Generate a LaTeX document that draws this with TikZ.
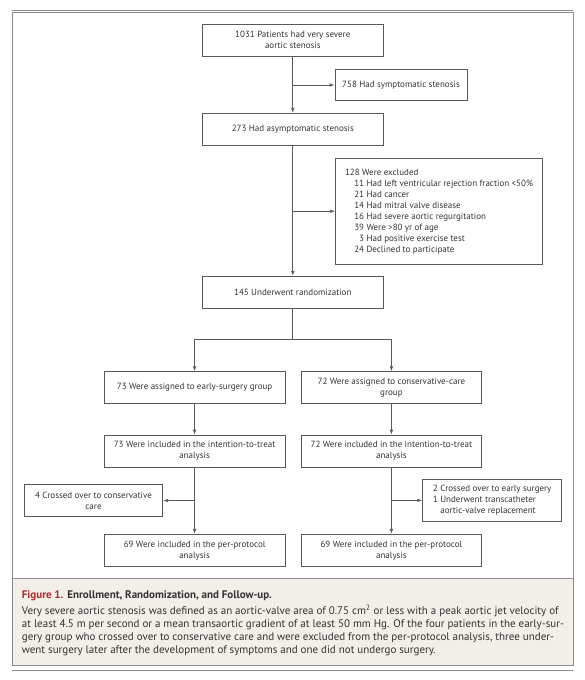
\documentclass[tikz,border=0pt]{standalone}
\usepackage{fontspec}
\setmainfont{PT Sans}
\usetikzlibrary{arrows.meta}
\definecolor{linec}{HTML}{595959}
\definecolor{framec}{HTML}{8C8C8C}
\definecolor{txt}{HTML}{333333}
\definecolor{capbg}{HTML}{F2EFE8}
\definecolor{figred}{HTML}{B3282D}
\begin{document}
\begin{tikzpicture}[x=1pt,y=-1pt,
  box/.style={draw=linec, line width=0.8pt, text=txt, font=\fontsize{9}{11}\selectfont,
    align=center, inner sep=0pt, minimum height=32pt, minimum width=181pt},
  arr/.style={draw=linec, line width=0.8pt, -{Latex[length=5pt,width=3.6pt]}},
  ln/.style={draw=linec, line width=0.8pt},
  rule/.style={draw=framec, line width=1pt},
  captext/.style={anchor=north west, inner sep=0pt, align=left, text=txt}]
\useasboundingbox (0,0) rectangle (585,680);
% frame and caption background
\fill[capbg] (12.3,578.3) rectangle (573.3,665);
\draw[rule] (12.3,12.7) rectangle (573.3,665);
\draw[rule] (12.3,578.3) -- (573.3,578.3);
\draw[rule] (12.3,10) -- (573.3,10);
\draw[rule] (12.3,670) -- (573.3,670);
% nodes
\node[box, minimum height=31.7pt] (b1) at (292.8,40.2) {1031 Patients had very severe\\aortic stenosis};
\node[box, minimum width=132pt, minimum height=31.4pt] (b758) at (401,85) {758 Had symptomatic stenosis};
\node[box] (b273) at (292.8,129.3) {273 Had asymptomatic stenosis};
\node[box, minimum width=206.6pt, minimum height=105.7pt, align=left] (excl) at (439,211.2) {128 Were excluded\\
\hspace*{9.3pt}11 Had left ventricular rejection fraction <50\%\\
\hspace*{9.3pt}21 Had cancer\\
\hspace*{9.3pt}14 Had mitral valve disease\\
\hspace*{9.3pt}16 Had severe aortic regurgitation\\
\hspace*{9.3pt}39 Were >80 yr of age\\
\hspace*{9.3pt}\hphantom{0}3 Had positive exercise test\\
\hspace*{9.3pt}24 Declined to participate};
\node[box] (b145) at (292.8,292.4) {145 Underwent randomization};
\node[box, minimum width=180.7pt] (La) at (194.6,387.7) {73 Were assigned to early-surgery group};
\node[box, minimum width=179.3pt] (Ra) at (391.4,387.7) {72 Were assigned to conservative-care\\group};
\node[box, minimum width=180.7pt, minimum height=32.3pt] (Litt) at (194.6,451.2) {73 Were included in the intention-to-treat\\analysis};
\node[box, minimum width=179.3pt, minimum height=32.3pt] (Ritt) at (391.4,451.2) {72 Were included in the intention-to-treat\\analysis};
\node[box, minimum width=138.4pt, minimum height=32.4pt] (Lc) at (93.5,500.5) {4 Crossed over to conservative\\care};
\node[box, minimum width=139pt, minimum height=42.7pt, align=left] (Rc) at (492.2,500.35) {2 Crossed over to early surgery\\
1 Underwent transcatheter\\
\hphantom{1 }aortic-valve replacement};
\node[box, minimum width=180.7pt, minimum height=32.4pt] (Lpp) at (194.6,550.5) {69 Were included in the per-protocol\\analysis};
\node[box, minimum width=179.3pt, minimum height=32.4pt] (Rpp) at (391.4,550.5) {69 Were included in the per-protocol\\analysis};
% connectors
\draw[arr] (b1.south) -- (b273.north);
\draw[arr] (b1.south |- b758.west) -- (b758.west);
\draw[arr] (b273.south) -- (b145.north);
\draw[arr] (b273.south |- excl.west) -- (excl.west);
\coordinate (split) at (292.8,339.3);
\draw[ln] (b145.south) -- (split);
\draw[arr] (split) -| (La.north);
\draw[arr] (split) -| (Ra.north);
\draw[arr] (La.south) -- (Litt.north);
\draw[arr] (Ra.south) -- (Ritt.north);
\draw[arr] (Litt.south) -- (Lpp.north);
\draw[arr] (Ritt.south) -- (Rpp.north);
\draw[arr] (Litt.south |- Lc.east) -- (Lc.east);
\draw[arr] (Ritt.south |- Rc.west) -- (Rc.west);
% caption
\node[captext, font=\fontsize{11}{13}\selectfont] (captitle) at (21.7,590.5) {\textbf{\color{figred}Figure 1.} \textbf{Enrollment, Randomization, and Follow-up.}};
\node[captext, font=\fontsize{11}{13}\selectfont] (capbody) at (21.7,605) {Very severe aortic stenosis was defined as an aortic-valve area of 0.75 cm\textsuperscript{2} or less with a peak aortic jet velocity of\\
at least 4.5 m per second or a mean transaortic gradient of at least 50 mm Hg. Of the four patients in the early-sur-\\
gery group who crossed over to conservative care and were excluded from the per-protocol analysis, three under-\\
went surgery later after the development of symptoms and one did not undergo surgery.};
\end{tikzpicture}
\end{document}
